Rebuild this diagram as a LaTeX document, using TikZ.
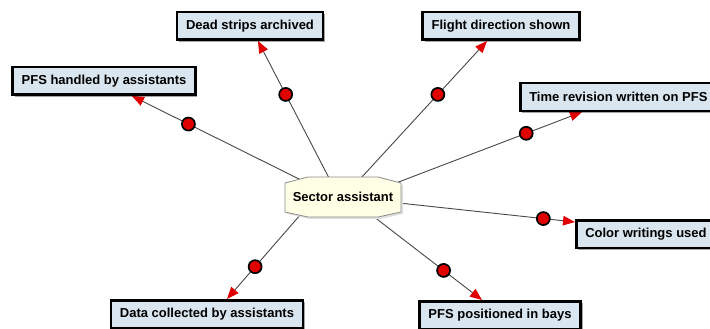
\documentclass[tikz,border=0pt]{standalone}
\usepackage{fontspec}
\setmainfont{Liberation Sans}
\usetikzlibrary{arrows.meta,shadows,calc,backgrounds}
\definecolor{boxblue}{HTML}{D9E6EF}
\definecolor{sayellow}{HTML}{FFFFE6}
\definecolor{dotred}{HTML}{E00000}
\definecolor{linegray}{HTML}{484848}
\newcommand{\boxfont}{\bfseries\fontsize{13pt}{15pt}\selectfont}
\tikzset{
  box/.style={draw=black, line width=2.5pt, fill=boxblue, font=\boxfont,
    inner xsep=9pt, inner ysep=0pt, minimum height=27.5pt,
    drop shadow={shadow xshift=2pt, shadow yshift=-2pt, fill=black, opacity=0.35}},
  satext/.style={font=\boxfont, inner sep=0pt},
  conn/.style={draw=linegray, line width=0.9pt,
    -{Triangle[length=12pt,width=9.5pt,color=dotred]}},
  dot/.style={circle, fill=dotred, draw=black, line width=1.7pt,
    minimum size=13pt, inner sep=0pt},
}
\begin{document}
\begin{tikzpicture}[x=1pt,y=-1pt]
\useasboundingbox (0,0) rectangle (710,329);
% boxes
\node[box] (ds) at (250,26) {Dead strips archived};
\node[box] (fd) at (501,26) {Flight direction shown};
\node[box] (ph) at (104,81) {PFS handled by assistants};
\node[box, anchor=west] (tr) at (519,97) {Time revision written on PFS};
\node[box, anchor=west] (cw) at (575,234) {Color writings used};
\node[box] (dc) at (207,314) {Data collected by assistants};
\node[box] (pp) at (500,315) {PFS positioned in bays};
% centre
\node[satext] (sa) at (343,197) {Sector assistant};
\begin{pgfonlayer}{background}
\fill[white] (0,0) rectangle (710,329);
\draw[conn] ($(sa.center)+(-14,-19)$) -- node[dot, pos=0.61]{} ([xshift=8pt]ds.south);
\draw[conn] ($(sa.center)+(18,-19)$) -- node[dot, pos=0.61]{} ([xshift=-14pt]fd.south);
\draw[conn] ($(sa.center)+(-40,-16)$) -- node[dot, pos=0.67]{} ([xshift=28pt]ph.south);
\draw[conn] ($(sa.center)+(53,-14)$) -- node[dot, pos=0.70]{} ([xshift=63pt]tr.south west);
\draw[conn] ($(sa.center)+(56,6)$) -- node[dot, pos=0.82]{} ([yshift=12pt]cw.west);
\draw[conn] ($(sa.center)+(-42,17)$) -- node[dot, pos=0.62]{} ([xshift=20pt]dc.north);
\draw[conn] ($(sa.center)+(26,16)$) -- node[dot, pos=0.66]{} ([xshift=-18pt]pp.north);
% centre shape
\fill[black!12] ($(sa.center)+(-56,-12)$) -- ($(sa.center)+(-33,-18)$) -- ($(sa.center)+(37,-18)$) -- ($(sa.center)+(60,-12)$) -- ($(sa.center)+(60,17)$) -- ($(sa.center)+(37,22)$) -- ($(sa.center)+(-33,22)$) -- ($(sa.center)+(-56,17)$) -- cycle;
\draw[fill=sayellow, draw=black!45, line width=0.8pt]
  ($(sa.center)+(-58,-14)$) -- ($(sa.center)+(-35,-20)$) -- ($(sa.center)+(35,-20)$) -- ($(sa.center)+(58,-14)$) -- ($(sa.center)+(58,15)$) -- ($(sa.center)+(35,20)$) -- ($(sa.center)+(-35,20)$) -- ($(sa.center)+(-58,15)$) -- cycle;
\end{pgfonlayer}
\end{tikzpicture}
\end{document}
